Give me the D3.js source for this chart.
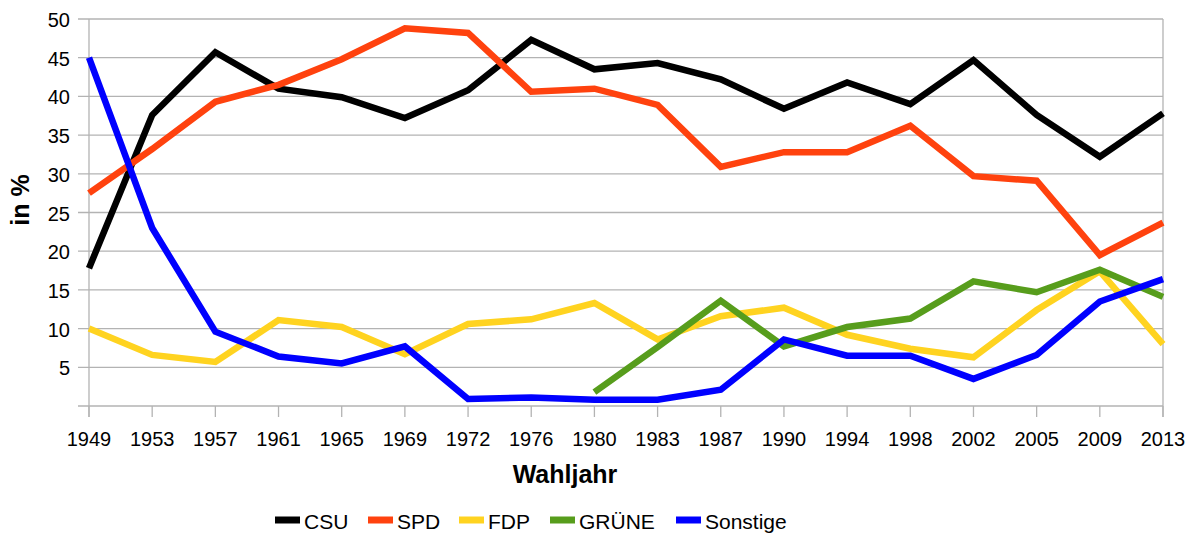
<!DOCTYPE html>
<html>
<head>
<meta charset="utf-8">
<script src="https://cdn.jsdelivr.net/npm/d3@7.9.0/dist/d3.min.js"></script>
<style>
  body { margin: 0; background: #fff; }
  svg { display: block; font-family: "Liberation Sans", Arial, sans-serif; }
</style>
</head>
<body>
<svg id="chart" width="1193" height="533"></svg>
<script>
// ====== DATA ======
const years = ['1949', '1953', '1957', '1961', '1965', '1969', '1972', '1976', '1980',
  '1983', '1987', '1990', '1994', '1998', '2002', '2005', '2009', '2013'];

const csu = [17.8, 37.6, 45.7, 41.0, 39.9, 37.2, 40.8, 47.3, 43.5,
  44.3, 42.2, 38.4, 41.8, 39.0, 44.7, 37.6, 32.2, 37.8];
const spd = [27.5, 33.2, 39.3, 41.5, 44.8, 48.8, 48.2, 40.6, 41.0,
  38.9, 30.9, 32.8, 32.8, 36.2, 29.7, 29.1, 19.5, 23.7];
const fdp = [10.0, 6.6, 5.7, 11.1, 10.2, 6.7, 10.6, 11.2, 13.3,
  8.6, 11.6, 12.7, 9.2, 7.4, 6.3, 12.4, 17.4, 8.0];
const gruene = [null, null, null, null, null, null, null, null, 1.8,
  7.6, 13.6, 7.7, 10.2, 11.3, 16.1, 14.7, 17.6, 14.1];
const sonstige = [45.0, 23.0, 9.6, 6.4, 5.5, 7.7, 0.9, 1.1, 0.8,
  0.8, 2.1, 8.6, 6.5, 6.5, 3.5, 6.6, 13.5, 16.4];

const yTicks = [5, 10, 15, 20, 25, 30, 35, 40, 45, 50];

const series = [
  { name: 'CSU', values: csu, color: '#000000' },
  { name: 'SPD', values: spd, color: '#ff420e' },
  { name: 'FDP', values: fdp, color: '#ffd320' },
  { name: 'GRÜNE', values: gruene, color: '#579d1c' },
  { name: 'Sonstige', values: sonstige, color: '#0000ff' },
];

// ====== LAYOUT ======
const svg = d3.select('#chart');
const plotLeft = 89, plotRight = 1163, plotTop = 19, plotBottom = 406;
const gridColor = '#b3b3b3';

const x = d3.scalePoint().domain(years).range([plotLeft, plotRight]).padding(0);
const y = d3.scaleLinear().domain([0, 50]).range([plotBottom, plotTop]);

// horizontal gridlines (incl. the 0 line)
svg.append('g')
  .selectAll('line')
  .data([0, ...yTicks])
  .join('line')
  .attr('x1', plotLeft - 11)
  .attr('x2', plotRight)
  .attr('y1', (d) => y(d))
  .attr('y2', (d) => y(d))
  .attr('stroke', gridColor)
  .attr('stroke-width', 1.3);

// vertical ticks at each category, plus left / right frame lines
svg.append('g')
  .selectAll('line')
  .data(years)
  .join('line')
  .attr('x1', (d) => x(d))
  .attr('x2', (d) => x(d))
  .attr('y1', plotBottom)
  .attr('y2', plotBottom + 11)
  .attr('stroke', gridColor)
  .attr('stroke-width', 1.3);

[plotLeft, plotRight].forEach((px) => {
  svg.append('line')
    .attr('x1', px).attr('x2', px)
    .attr('y1', plotTop).attr('y2', plotBottom + 11)
    .attr('stroke', gridColor)
    .attr('stroke-width', 1.3);
});

// y tick labels
svg.append('g')
  .selectAll('text')
  .data(yTicks)
  .join('text')
  .attr('x', 70)
  .attr('y', (d) => y(d) + 8)
  .attr('text-anchor', 'end')
  .attr('font-size', 20)
  .attr('fill', '#000')
  .text((d) => d);

// x tick labels
svg.append('g')
  .selectAll('text')
  .data(years)
  .join('text')
  .attr('x', (d) => x(d))
  .attr('y', 446)
  .attr('text-anchor', 'middle')
  .attr('font-size', 20)
  .attr('fill', '#000')
  .text((d) => d);

// axis titles
svg.append('text')
  .attr('x', 565)
  .attr('y', 483)
  .attr('text-anchor', 'middle')
  .attr('font-size', 25)
  .attr('font-weight', 'bold')
  .text('Wahljahr');

svg.append('text')
  .attr('transform', 'translate(29,200) rotate(-90)')
  .attr('text-anchor', 'middle')
  .attr('font-size', 25)
  .attr('font-weight', 'bold')
  .text('in %');

// ====== LINES ======
const line = d3.line()
  .defined((d) => d != null)
  .x((d, i) => x(years[i]))
  .y((d) => y(d));

svg.append('g')
  .selectAll('path')
  .data(series)
  .join('path')
  .attr('d', (d) => line(d.values))
  .attr('fill', 'none')
  .attr('stroke', (d) => d.color)
  .attr('stroke-width', 6.5)
  .attr('stroke-linejoin', 'miter');

// ====== LEGEND ======
const legendX = [275, 368, 459, 550, 676];
const legend = svg.append('g')
  .selectAll('g')
  .data(series)
  .join('g')
  .attr('transform', (d, i) => `translate(${legendX[i]},520)`);

legend.append('line')
  .attr('x1', 0).attr('x2', 25)
  .attr('stroke', (d) => d.color)
  .attr('stroke-width', 7);

legend.append('text')
  .attr('x', 29)
  .attr('y', 9)
  .attr('font-size', 21)
  .text((d) => d.name);
</script>
</body>
</html>
